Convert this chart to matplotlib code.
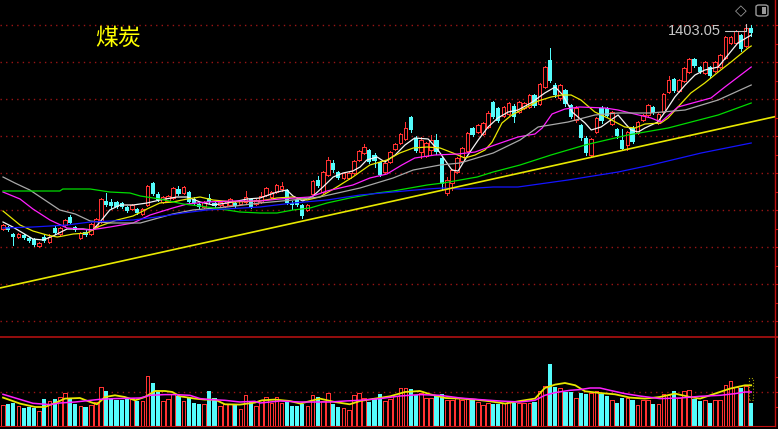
import matplotlib

matplotlib.use("Agg")

import matplotlib.pyplot as plt
import numpy as np
from matplotlib.lines import Line2D
from matplotlib.patches import FancyBboxPatch, Rectangle

# ---------------------------------------------------------------- data
title_text = "煤炭"

opens = [788, 794, 773, 764, 770, 761, 758, 737, 764, 749,
         791, 773, 800, 824, 794, 761, 779, 773, 797, 809,
         872, 869, 869, 866, 854, 848, 848, 833, 860, 926,
         893, 869, 872, 881, 908, 896, 899, 878, 863, 854,
         881, 866, 860, 857, 860, 866, 863, 869, 878, 863,
         869, 890, 884, 899, 908, 905, 866, 875, 860, 845,
         893, 935, 899, 950, 986, 959, 941, 941, 956, 995,
         1016, 1025, 1010, 989, 959, 989, 1028, 1046, 1058, 1124,
         1061, 1019, 1007, 1025, 1055, 1001, 896, 926, 959, 992,
         1022, 1091, 1079, 1073, 1094, 1169, 1151, 1127, 1133, 1157,
         1139, 1151, 1154, 1190, 1163, 1214, 1295, 1220, 1181, 1205,
         1160, 1115, 1100, 1061, 1010, 1079, 1151, 1151, 1103, 1088,
         1055, 1040, 1091, 1076, 1115, 1130, 1154, 1106, 1139, 1199,
         1238, 1202, 1232, 1259, 1298, 1274, 1256, 1274, 1262, 1274,
         1301, 1346, 1346, 1370, 1337, 1391]

highs = [803, 797, 776, 776, 773, 764, 761, 749, 770, 773,
         797, 794, 818, 830, 797, 779, 785, 806, 821, 881,
         896, 878, 872, 869, 857, 863, 851, 851, 920, 929,
         899, 887, 890, 914, 917, 917, 902, 884, 866, 872,
         893, 869, 872, 869, 881, 869, 875, 902, 881, 878,
         899, 914, 902, 923, 929, 908, 872, 878, 863, 863,
         935, 947, 962, 1004, 995, 962, 959, 962, 995, 1025,
         1043, 1028, 1016, 992, 989, 1022, 1046, 1076, 1109, 1127,
         1067, 1064, 1049, 1070, 1073, 1004, 944, 968, 1004, 1034,
         1079, 1094, 1103, 1109, 1142, 1172, 1154, 1157, 1169, 1163,
         1172, 1169, 1193, 1193, 1226, 1277, 1331, 1226, 1223, 1208,
         1163, 1157, 1103, 1067, 1061, 1124, 1157, 1154, 1142, 1091,
         1088, 1082, 1097, 1112, 1133, 1163, 1157, 1136, 1196, 1247,
         1241, 1238, 1274, 1301, 1301, 1277, 1292, 1277, 1292, 1313,
         1367, 1367, 1385, 1373, 1403.05, 1400]

lows = [785, 782, 740, 761, 758, 749, 737, 734, 749, 746,
        773, 770, 797, 803, 782, 758, 767, 770, 794, 806,
        857, 851, 851, 851, 839, 845, 833, 830, 857, 890,
        872, 866, 869, 878, 890, 893, 866, 863, 851, 851,
        866, 854, 857, 854, 857, 854, 860, 866, 851, 860,
        866, 887, 881, 896, 902, 863, 848, 857, 821, 842,
        890, 914, 896, 947, 959, 938, 938, 938, 953, 992,
        1013, 986, 974, 947, 956, 986, 1025, 1043, 1055, 1079,
        1019, 1001, 1004, 1013, 1013, 905, 890, 905, 956, 989,
        1019, 1067, 1076, 1070, 1091, 1121, 1109, 1124, 1130, 1109,
        1136, 1148, 1151, 1154, 1160, 1211, 1229, 1184, 1175, 1157,
        1121, 1109, 1055, 1010, 1004, 1076, 1106, 1124, 1100, 1061,
        1025, 1025, 1046, 1073, 1112, 1127, 1133, 1103, 1136, 1196,
        1199, 1199, 1229, 1256, 1274, 1256, 1253, 1241, 1259, 1271,
        1298, 1343, 1343, 1322, 1334, 1367]

closes = [800, 785, 764, 773, 761, 752, 740, 746, 752, 764,
          776, 791, 815, 806, 785, 776, 770, 803, 818, 878,
          860, 857, 854, 854, 842, 860, 836, 848, 917, 893,
          875, 884, 887, 911, 893, 914, 869, 866, 854, 869,
          869, 857, 869, 866, 878, 857, 872, 884, 854, 875,
          887, 911, 899, 920, 917, 866, 860, 860, 827, 860,
          932, 917, 959, 995, 965, 941, 956, 956, 992, 1022,
          1034, 989, 992, 950, 986, 1019, 1043, 1073, 1091, 1085,
          1022, 1055, 1046, 1055, 1019, 923, 935, 965, 1001, 1031,
          1076, 1070, 1100, 1106, 1136, 1124, 1112, 1154, 1166, 1124,
          1169, 1166, 1190, 1157, 1223, 1274, 1232, 1190, 1220, 1163,
          1124, 1151, 1061, 1016, 1058, 1121, 1112, 1127, 1139, 1067,
          1028, 1079, 1049, 1109, 1130, 1160, 1136, 1133, 1193, 1235,
          1202, 1235, 1271, 1298, 1277, 1259, 1289, 1247, 1289, 1310,
          1364, 1364, 1382, 1328, 1391, 1376]

volumes = [21, 21.7, 23.3, 20, 17.7, 19.3, 17.7, 15, 26.7, 25,
           26.7, 29, 32.7, 26.7, 21.7, 20, 19, 21, 24.3, 39,
           35, 26.7, 25.7, 25.7, 26.7, 28.3, 25, 25, 50, 42.7,
           34, 25, 26.7, 31.7, 30, 25, 28.3, 23.3, 21.7, 21.7,
           35, 28.3, 20, 22.3, 22.3, 21, 16.7, 31, 25, 20,
           26, 29, 23.3, 29, 23.3, 25, 20, 20, 21.7, 20,
           31, 29, 25, 32.7, 22.3, 19, 17.7, 16, 31, 32.7,
           28.3, 24.3, 27.7, 31.7, 25, 26.7, 30, 37.7, 37.7, 36.7,
           30.7, 33.3, 27.7, 27.7, 30, 32.3, 25.7, 25.7, 27.7, 25.7,
           26.7, 25.7, 24.3, 20.7, 22.7, 21.7, 21.7, 23.3, 25, 23.3,
           23.3, 23.3, 23.3, 24.3, 35, 40, 61.7, 39.3, 37.7, 34.3,
           34.3, 28.3, 33.3, 31.7, 33.3, 35, 31.7, 30, 26, 23.3,
           28.3, 27.7, 25.7, 20.7, 25.7, 25.7, 22.3, 22.3, 32.3, 30.7,
           35, 28.3, 35, 36, 27.3, 25, 26, 23.3, 26, 25.7,
           40.7, 45, 39.3, 38.3, 40, 23.3]

# moving averages (bar position, value)
ma5_idx = [0, 1.9, 5.8, 7.8, 9.7, 12.4, 15.5, 17.4, 18.8, 20.7, 22.7, 25.2,
           27.9, 30.4, 33.7, 35.7, 38.2, 40.7, 44.6, 47.3, 49.8, 53.1, 55.0,
           56.2, 58.1, 60.1, 62.0, 64.0, 65.9, 67.8, 69.2, 70.5, 72.5, 74.0,
           76.0, 77.9, 79.8, 82.4, 84.3, 87.0, 88.2, 90.1, 92.1, 94.0, 95.9,
           97.9, 99.8, 102.3, 105.0, 107.0, 108.5, 110.3, 112.8, 114.0, 115.9,
           117.8, 119.2, 120.5, 121.7, 123.1, 124.4, 126.9, 128.3, 130.2,
           132.2, 134.1, 136.0, 138.6, 140.5, 142.4, 145.0]
ma5_val = [809, 794, 758, 755, 767, 788, 788, 785, 809, 845, 860, 860,
           866, 875, 884, 884, 869, 860, 869, 878, 881, 899, 905,
           887, 872, 887, 914, 944, 956, 962, 974, 995, 1004, 989,
           1010, 1040, 1061, 1058, 1025, 965, 962, 1010, 1055, 1094, 1121,
           1139, 1145, 1166, 1196, 1214, 1190, 1139, 1106, 1085, 1094,
           1115, 1130, 1106, 1085, 1079, 1091, 1109, 1139, 1184,
           1220, 1250, 1265, 1274, 1310, 1346, 1370]

ma10_idx = [0, 3.3, 5.8, 8.5, 10.5, 11.6, 13.6, 16.3, 18.8, 22.1, 25.2, 27.9,
            30.4, 32.9, 35.7, 38.2, 40.7, 44.6, 49.8, 53.1, 56.2, 58.9, 61.4,
            64.7, 67.8, 71.1, 74.4, 76.9, 79.5, 82.2, 84.7, 87.2, 89.5, 91.5,
            93.4, 94.8, 96.7, 98.6, 101.2, 103.7, 106.2, 108.3, 110.1, 112.0,
            114.7, 117.2, 120.5, 122.5, 124.4, 127.5, 128.9, 130.8, 133.3,
            136.0, 138.6, 141.1, 144.4, 145.0]
ma10_val = [842, 800, 782, 770, 764, 767, 773, 776, 797, 815, 827, 848,
            866, 869, 878, 884, 875, 869, 872, 881, 884, 875, 884,
            914, 944, 980, 995, 1016, 1031, 1034, 1031, 1016, 1001, 1010,
            1025, 1049, 1106, 1130, 1151, 1172, 1184, 1190, 1190, 1175,
            1139, 1121, 1094, 1091, 1103, 1106, 1121, 1154, 1196,
            1226, 1259, 1289, 1331, 1337]

ma20_idx = [0, 3.3, 5.8, 9.1, 12.4, 16.9, 20.7, 25.2, 28.5, 32.9, 35.7, 39.5,
            44.6, 49.8, 53.7, 59.5, 62.8, 67.8, 71.1, 74.4, 77.3, 79.8, 83.7,
            88.2, 91.5, 95.3, 99.8, 103.1, 104.5, 106.4, 108.9, 111.8, 116.7,
            119.2, 125.6, 127.5, 130.8, 137.2, 139.9, 145.0]
ma20_val = [899, 878, 848, 815, 791, 785, 794, 806, 830, 851, 863, 869,
            872, 872, 878, 884, 902, 920, 941, 953, 980, 1001, 1010,
            1013, 1019, 1040, 1064, 1073, 1091, 1133, 1148, 1154, 1151,
            1145, 1121, 1109, 1154, 1181, 1214, 1274]

ma30_idx = [0, 2.3, 5.2, 8.1, 11.0, 14.0, 16.9, 20.7, 26.6, 32.9, 36.8, 43.4,
            49.8, 56.2, 61.4, 69.2, 75.6, 79.5, 84.7, 88.6, 95.0, 100.2,
            103.7, 109.5, 114.7, 119.2, 125.6, 132.2, 138.6, 145.0]
ma30_val = [944, 926, 905, 875, 845, 833, 812, 806, 806, 833, 845, 854,
            866, 875, 884, 911, 941, 965, 980, 986, 1016, 1055,
            1094, 1109, 1130, 1136, 1136, 1145, 1175, 1220]

ma60_idx = [0, 11.0, 11.6, 16.9, 20.7, 24.6, 26.6, 30.4, 34.9, 38.2, 43.4,
            45.9, 49.8, 53.1, 56.2, 59.5, 62.8, 67.2, 72.5, 75.6, 78.9, 82.2,
            85.3, 88.6, 91.9, 95.0, 100.2, 106.2, 112.8, 121.1, 128.9, 138.6,
            145.0]
ma60_val = [902, 902, 908, 908, 899, 896, 887, 878, 863, 857, 845,
            839, 836, 836, 845, 851, 866, 881, 896, 902, 911, 920,
            926, 935, 944, 959, 980, 1010, 1040, 1070, 1091, 1130,
            1166]

ma120_idx = [0, 5.8, 12.4, 16.9, 25.2, 29.8, 34.9, 39.5, 49.8, 56.2, 62.8,
             69.2, 75.6, 82.2, 85.3, 88.6, 95.0, 99.8, 109.5, 119.2, 125.6,
             135.3, 145.0]
ma120_val = [791, 794, 800, 809, 815, 824, 836, 845, 854, 866, 875,
             890, 899, 908, 911, 908, 914, 914, 935, 959, 980,
             1016, 1046]

trend_idx = [-0.6, 149.6]
trend_val = [611, 1125]

vol_ma5_idx = [0, 3.3, 6.2, 8.1, 10.1, 12.0, 14.9, 16.9, 18.2, 19.8, 21.7,
               23.6, 25.6, 27.5, 29.5, 31.4, 32.8, 34.3, 37.2, 39.1, 41.1,
               43.0, 45.9, 48.8, 50.2, 52.7, 55.6, 57.6, 61.4, 64.3, 67.2,
               69.2, 72.1, 75.0, 77.9, 80.8, 82.8, 85.7, 88.6, 91.5, 94.4,
               97.3, 100.2, 103.1, 105.0, 107.0, 108.9, 110.9, 112.8, 115.7,
               118.6, 121.5, 124.4, 127.3, 130.2, 133.1, 135.1, 138.0, 140.9,
               143.8, 145.0]
vol_ma5_val = [28.4, 22.4, 19, 19, 23, 27.4, 28, 24, 21.7, 29, 30.7,
               29, 25.7, 29, 35, 35, 34, 29.7, 27.4, 26.4, 26.4,
               21.7, 21.4, 23.4, 25.7, 26.4, 25, 22.4, 27.4, 24, 21.7,
               25, 27.4, 29.7, 34, 35, 31.7, 28, 27.4, 26.4, 24.7,
               22.4, 25, 27.4, 38, 41.4, 43, 40.7, 34.7, 33,
               31.7, 28.4, 27.4, 29, 32.4, 29, 27.4, 32.4, 37.4,
               40.7, 40.7]

vol_ma10_idx = [0, 5.8, 9.1, 11.0, 14.0, 18.8, 21.7, 26.6, 28.5, 31.4, 33.3,
                36.2, 38.2, 40.1, 43.0, 45.9, 48.8, 49.8, 53.7, 57.6, 63.4,
                66.3, 69.2, 73.1, 76.9, 80.8, 84.7, 88.6, 92.4, 96.3, 100.2,
                103.1, 105.0, 107.0, 109.9, 111.8, 113.8, 115.7, 117.6, 120.5,
                123.4, 127.3, 131.2, 135.1, 139.0, 141.9, 143.8, 145.0]
vol_ma10_val = [31.7, 22.7, 21.4, 23, 24, 26.7, 27.4, 28, 30.7, 31.4, 31.4,
                30.7, 27.4, 26.4, 25.7, 24, 24.7, 23, 25, 24, 24,
                25, 25.7, 27.4, 30, 31.4, 30.7, 28, 26.4, 25, 24,
                25.7, 30.7, 33.4, 35.7, 36.4, 38, 38, 35.7, 32.4,
                30, 27.4, 28, 29.7, 30.7, 32.4, 34, 34]

# ---------------------------------------------------------------- style
UP = "#ff3232"
DOWN = "#54fcfc"
GRID = "#9a1515"
AXIS_RED = "#c01010"
MA_STYLES = [
    (ma5_idx, ma5_val, "#f4f4f4"),
    (ma10_idx, ma10_val, "#e8e800"),
    (ma20_idx, ma20_val, "#ff20ff"),
    (ma30_idx, ma30_val, "#a8a8a8"),
    (ma60_idx, ma60_val, "#00dc00"),
    (ma120_idx, ma120_val, "#1414ff"),
]

FIG_W, FIG_H = 778, 429
PLOT_RIGHT = 775
MAIN_BOTTOM = 337
VOL_BOTTOM = 426
HOLLOW_W = 0.7    # bar units, outline adds ~1px
FILLED_W = 0.8
EDGE_LW = 0.7


def draw_candles(ax, o, h, l, c):
    """Hollow red up-candles, filled cyan down-candles."""
    o, h, l, c = (np.asarray(v, dtype=float) for v in (o, h, l, c))
    x = np.arange(len(o))
    up = c >= o
    lo = np.minimum(o, c)
    hi = np.maximum(o, c)
    body = np.maximum(hi - lo, 1.5)

    ax.vlines(x[up], l[up], lo[up], color=UP, linewidth=EDGE_LW,
              antialiased=False)
    ax.vlines(x[up], hi[up], h[up], color=UP, linewidth=EDGE_LW,
              antialiased=False)
    ax.bar(x[up], body[up], bottom=lo[up], width=HOLLOW_W, facecolor="black",
           edgecolor=UP, linewidth=EDGE_LW, antialiased=False, zorder=3)

    ax.vlines(x[~up], l[~up], h[~up], color=DOWN, linewidth=EDGE_LW,
              antialiased=False, zorder=3)
    ax.bar(x[~up], body[~up], bottom=lo[~up], width=FILLED_W, color=DOWN,
           linewidth=0, antialiased=False, zorder=3)
    return up


def draw_volume(ax, vol, up):
    vol = np.asarray(vol, dtype=float)
    x = np.arange(len(vol))
    ax.bar(x[up], vol[up], width=HOLLOW_W, facecolor="black", edgecolor=UP,
           linewidth=EDGE_LW, antialiased=False, zorder=2)
    ax.bar(x[~up], vol[~up], width=FILLED_W, color=DOWN, linewidth=0,
           antialiased=False, zorder=2)


def style_panel(ax, xlim, ylim):
    ax.set_facecolor("black")
    ax.set_xlim(*xlim)
    ax.set_ylim(*ylim)
    for side in ("top", "left", "bottom"):
        ax.spines[side].set_visible(False)
    ax.spines["right"].set_color(AXIS_RED)
    ax.spines["right"].set_linewidth(1.0)
    ax.set_xticks([])
    ax.yaxis.tick_right()
    ax.tick_params(axis="y", direction="out", length=2.5, width=0.8,
                   colors=AXIS_RED, labelright=False)


fig = plt.figure(figsize=(FIG_W / 100, FIG_H / 100), dpi=100, facecolor="black")
xlim = (-3 / 5.16, (PLOT_RIGHT - 3) / 5.16)

ax = fig.add_axes([0, (FIG_H - MAIN_BOTTOM) / FIG_H,
                   PLOT_RIGHT / FIG_W, MAIN_BOTTOM / FIG_H])
style_panel(ax, xlim, (464, 1475))
ax.set_yticks(1400 - 55.5 * np.arange(17))
for k in range(9):
    ax.axhline(1400 - 111 * k, color=GRID, linewidth=1.0,
               linestyle=(0, (1, 3)), zorder=0)

up = draw_candles(ax, opens, highs, lows, closes)
for xs, vs, color in MA_STYLES:
    ax.plot(xs, vs, color=color, linewidth=0.9, zorder=4)
ax.plot(trend_idx, trend_val, color="#e8e800", linewidth=1.2, zorder=4)

top = int(np.argmax(highs))
ax.annotate(f"{highs[top]:.2f}", xy=(top, highs[top]), xytext=(-18, -5),
            textcoords="offset points", ha="right", va="center",
            color="#c8c8c8", fontsize=10.5, family="Liberation Sans",
            arrowprops=dict(arrowstyle="-", color="#c8c8c8", lw=0.8,
                            shrinkA=1, shrinkB=0,
                            connectionstyle="angle,angleA=0,angleB=90,rad=0"),
            zorder=6)

axv = fig.add_axes([0, (FIG_H - VOL_BOTTOM) / FIG_H,
                    PLOT_RIGHT / FIG_W, (VOL_BOTTOM - MAIN_BOTTOM) / FIG_H])
style_panel(axv, xlim, (0, 89))
axv.spines["bottom"].set_visible(True)
axv.spines["bottom"].set_color(AXIS_RED)
axv.set_yticks([19, 34, 49])
axv.axhline(34, color=GRID, linewidth=1.0, linestyle=(0, (1, 3)), zorder=0)
draw_volume(axv, volumes, up)
axv.plot(vol_ma5_idx, vol_ma5_val, color="#e8e800", linewidth=1.3, zorder=4)
axv.plot(vol_ma10_idx, vol_ma10_val, color="#ff20ff", linewidth=1.1, zorder=4)
last = len(volumes) - 1
axv.add_patch(Rectangle((last - 0.4, 26), 0.8, 22, fill=False,
                        edgecolor="#a0a000", linestyle=":", linewidth=0.8,
                        zorder=5))

# panel separator across the full width
sep_y = (FIG_H - MAIN_BOTTOM) / FIG_H
fig.add_artist(Line2D([0, 1], [sep_y, sep_y], color="#b01010", linewidth=1.2))

fig.text(95 / FIG_W, 1 - 38 / FIG_H, title_text, color="#ffff00",
         fontsize=16.5, family=["Noto Sans CJK SC", "DejaVu Sans"],
         ha="left", va="center")

# toolbar glyphs, top right
fig.text(741 / FIG_W, 1 - 11 / FIG_H, "◇", color="#9a9a9a", fontsize=11,
         ha="center", va="center", family="DejaVu Sans")
fig.add_artist(FancyBboxPatch((756 / FIG_W, 1 - 16 / FIG_H), 12 / FIG_W,
                              11 / FIG_H, boxstyle="round,pad=0,rounding_size=0.004",
                              transform=fig.transFigure, facecolor="none",
                              edgecolor="#9a9a9a", linewidth=1.0))
fig.add_artist(Rectangle((762 / FIG_W, 1 - 14 / FIG_H), 4 / FIG_W, 7 / FIG_H,
                         transform=fig.transFigure, facecolor="#9a9a9a",
                         edgecolor="none"))

fig.savefig("out.png", dpi=100, facecolor="black")
